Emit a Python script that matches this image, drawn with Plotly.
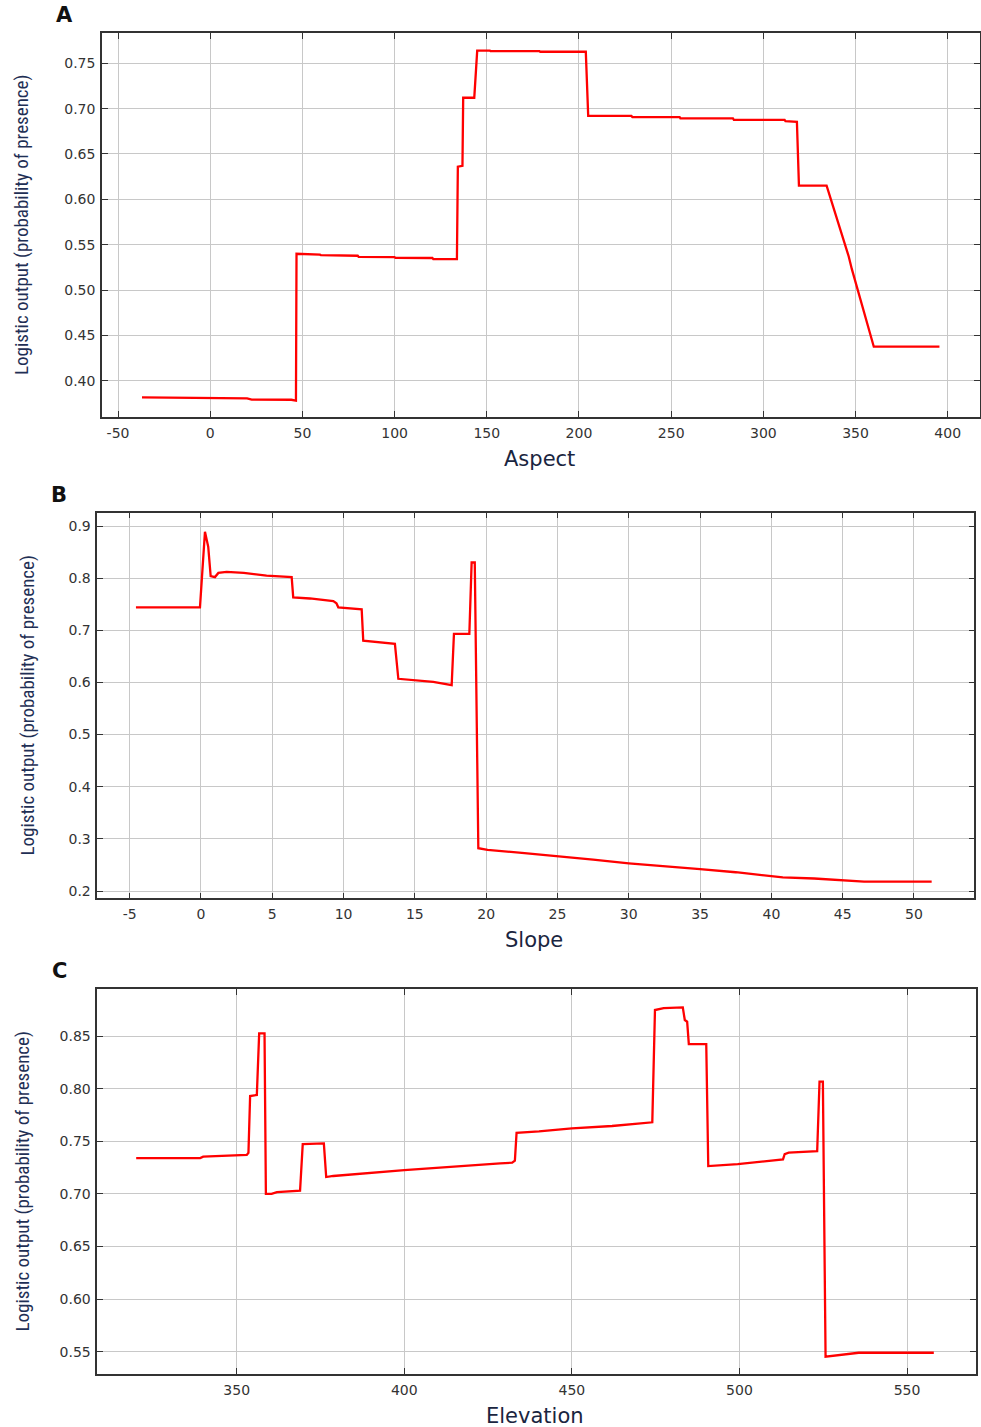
import plotly.graph_objects as go

# ---------------- data ----------------
aspect_x = [-37, 0, 0.5, 20, 22.5, 44, 46.5, 46.8, 59.5, 60, 80, 80.5, 100, 100.5, 120.5, 121, 133.8,
            134.3, 136.8, 137.2, 143.2, 144.8, 151.7, 152, 178.5, 179, 203.7, 205, 228.4, 229,
            254.6, 255, 283.5, 284, 311.5, 312, 318.2, 319.3, 334.3, 346.3, 348, 359.9, 395.5]
aspect_y = [0.3817, 0.381, 0.3805, 0.3805, 0.3792, 0.3790, 0.378, 0.540, 0.539, 0.5385, 0.5378, 0.5365,
            0.5362, 0.5355, 0.5353, 0.534, 0.534, 0.636, 0.637, 0.712, 0.712, 0.764, 0.764, 0.7635,
            0.7635, 0.7627, 0.7627, 0.692, 0.692, 0.6907, 0.6907, 0.6892, 0.6892, 0.6877, 0.6877,
            0.6862, 0.6855, 0.6152, 0.6152, 0.537, 0.523, 0.4375, 0.4375]

slope_x = [-4.56, -0.07, 0.28, 0.51, 0.68, 0.98, 1.22, 1.8, 3.0, 4.6, 6.36, 6.47, 7.64, 9.28, 9.5, 9.63,
           11.27, 11.38, 13.6, 13.84, 16.29, 17.58, 17.74, 18.82, 18.98, 19.2, 19.45, 20.1, 22.5, 25,
           27.5, 30, 32.5, 35, 37.5, 40, 40.8, 43, 45, 46.5, 51.24]
slope_y = [0.744, 0.744, 0.889, 0.860, 0.804, 0.802, 0.810, 0.812, 0.810, 0.805, 0.802, 0.763, 0.761,
           0.756, 0.752, 0.744, 0.740, 0.680, 0.674, 0.607, 0.601, 0.595, 0.693, 0.693, 0.830, 0.830,
           0.282, 0.279, 0.273, 0.267, 0.260, 0.253, 0.248, 0.242, 0.236, 0.229, 0.226, 0.224, 0.221,
           0.218, 0.218]

elev_x = [320.0, 339.1, 340, 349, 353, 353.5, 354, 356, 356.7, 358.3, 358.7, 360.4, 362, 368.9, 369.7,
          376, 376.7, 378.8, 400, 428.6, 432.2, 433, 433.5, 440.2, 450, 462, 474, 474.8, 477.4, 483.1,
          483.7, 484.4, 484.9, 490.1, 490.7, 499.5, 511.8, 513, 513.5, 514.7, 523.2, 523.9, 524.9,
          525.7, 535.6, 558]
elev_y = [0.734, 0.734, 0.7353, 0.7366, 0.737, 0.739, 0.793, 0.794, 0.8525, 0.8525, 0.700, 0.700,
          0.7017, 0.703, 0.7473, 0.748, 0.716, 0.717, 0.7226, 0.7290, 0.7296, 0.7315, 0.758, 0.7594,
          0.7622, 0.7645, 0.768, 0.8747, 0.8766, 0.8772, 0.8652, 0.8636, 0.8424, 0.8424, 0.7264,
          0.7283, 0.7321, 0.7328, 0.7378, 0.7391, 0.7407, 0.8066, 0.8066, 0.5452, 0.549, 0.549]

panel_labels = ["A", "B", "C"]
x_titles = ["Aspect", "Slope", "Elevation"]
y_title = "Logistic output (probability of presence)"

a_xticks = [-50, 0, 50, 100, 150, 200, 250, 300, 350, 400]
a_xlabels = ["-50", "0", "50", "100", "150", "200", "250", "300", "350", "400"]
a_yticks = [0.40, 0.45, 0.50, 0.55, 0.60, 0.65, 0.70, 0.75]
a_ylabels = ["0.40", "0.45", "0.50", "0.55", "0.60", "0.65", "0.70", "0.75"]
b_xticks = [-5, 0, 5, 10, 15, 20, 25, 30, 35, 40, 45, 50]
b_xlabels = ["-5", "0", "5", "10", "15", "20", "25", "30", "35", "40", "45", "50"]
b_yticks = [0.2, 0.3, 0.4, 0.5, 0.6, 0.7, 0.8, 0.9]
b_ylabels = ["0.2", "0.3", "0.4", "0.5", "0.6", "0.7", "0.8", "0.9"]
c_xticks = [350, 400, 450, 500, 550]
c_xlabels = ["350", "400", "450", "500", "550"]
c_yticks = [0.55, 0.60, 0.65, 0.70, 0.75, 0.80, 0.85]
c_ylabels = ["0.55", "0.60", "0.65", "0.70", "0.75", "0.80", "0.85"]

# ---------------- layout ----------------
W, H = 981, 1427

def px_x(v):
    return v / W

def px_y(v):
    return 1 - v / H

fig = go.Figure()
line = dict(color="#ff0000", width=2.3)
fig.add_trace(go.Scatter(x=aspect_x, y=aspect_y, mode="lines", line=line, xaxis="x", yaxis="y"))
fig.add_trace(go.Scatter(x=slope_x, y=slope_y, mode="lines", line=line, xaxis="x2", yaxis="y2"))
fig.add_trace(go.Scatter(x=elev_x, y=elev_y, mode="lines", line=line, xaxis="x3", yaxis="y3"))

tickfont = dict(family="DejaVu Sans", size=14, color="#333333")
common = dict(showgrid=True, gridcolor="#c8c8c8", gridwidth=1, showline=True, linecolor="#333333",
              linewidth=1.5, mirror="ticks", ticks="inside", ticklen=6, tickcolor="#333333",
              tickfont=tickfont, zeroline=False, ticklabelstandoff=2)

boxes = [  # left, right, top, bottom in px
    (102, 980, 33, 417),
    (97.3, 974.3, 512.7, 898.3),
    (97.3, 975.7, 989, 1374),
]
xranges = [[-58.7, 417.5], [-7.27, 54.23], [308.4, 570.5]]
yranges = [[0.360, 0.7834], [0.186, 0.9255], [0.5288, 0.8947]]
xticks = [a_xticks, b_xticks, c_xticks]
xlabels = [a_xlabels, b_xlabels, c_xlabels]
yticks = [a_yticks, b_yticks, c_yticks]
ylabels = [a_ylabels, b_ylabels, c_ylabels]

annotations = []
for i in range(3):
    l, r, t, b = boxes[i]
    sfx = "" if i == 0 else str(i + 1)
    fig.update_layout(**{
        "xaxis" + sfx: dict(domain=[px_x(l), px_x(r)], range=xranges[i], tickvals=xticks[i],
                            ticktext=xlabels[i], anchor="y" + sfx, **common),
        "yaxis" + sfx: dict(domain=[px_y(b), px_y(t)], range=yranges[i], tickvals=yticks[i],
                            ticktext=ylabels[i], anchor="x" + sfx, **common),
    })
    # panel label
    annotations.append(dict(text="<b>%s</b>" % panel_labels[i], x=px_x(l - 38), y=px_y(t - 18),
                            xref="paper", yref="paper", showarrow=False, xanchor="center",
                            yanchor="middle", font=dict(family="DejaVu Sans", size=21, color="#111111")))
    # x title
    annotations.append(dict(text=x_titles[i], x=px_x((l + r) / 2 - 2), y=px_y(b + 42),
                            xref="paper", yref="paper", showarrow=False, xanchor="center",
                            yanchor="middle", font=dict(family="DejaVu Sans", size=21, color="#1a2540")))
    # y title
    yt_x = [22, 27, 22][i]
    annotations.append(dict(text=y_title, x=px_x(yt_x), y=px_y((t + b) / 2), textangle=-90,
                            xref="paper", yref="paper", showarrow=False, xanchor="center",
                            yanchor="middle",
                            font=dict(family="Liberation Sans Narrow, Roboto Condensed, Liberation Sans",
                                      size=19, color="#1f2f55")))

fig.update_layout(width=W, height=H, margin=dict(l=0, r=0, t=0, b=0), showlegend=False,
                  paper_bgcolor="white", plot_bgcolor="white", annotations=annotations)

fig.write_html("out.html", config={"displayModeBar": False},
               post_script="document.body.style.margin='0px';")
